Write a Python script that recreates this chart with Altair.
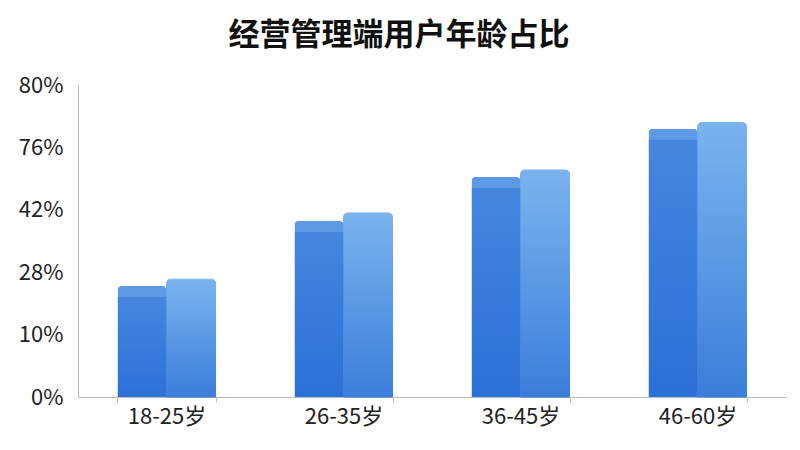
import altair as alt
import pandas as pd

categories = ["18-25岁", "26-35岁", "36-45岁", "46-60岁"]
series_front = [24.0, 39.5, 59.9, 77.2]   # left (darker) bars
series_back = [26.0, 41.3, 63.7, 77.6]    # right (lighter) bars
tick_labels = [0, 10, 28, 42, 76, 80]

W, H = 708, 312

rows = []
for c, a, b in zip(categories, series_front, series_back):
    rows.append({"cat": c, "series": "a", "value": a})
    rows.append({"cat": c, "series": "b", "value": b})
df = pd.DataFrame(rows)

n = len(tick_labels) - 1
y_range = [H - H * i / n for i in range(len(tick_labels))]

FONT = "Noto Sans CJK SC"

x_enc = alt.X(
    "cat:N",
    sort=categories,
    scale=alt.Scale(paddingInner=0.446, paddingOuter=0.223),
    axis=alt.Axis(
        title=None, labelAngle=0, labelFontSize=22, labelColor="#222222",
        labelFont=FONT, domainColor="#bbbbbb", tickColor="#bbbbbb",
        tickSize=5, tickBand="extent", labelPadding=4, grid=False,
    ),
)
y_enc = alt.Y(
    "value:Q",
    scale=alt.Scale(domain=tick_labels, range=y_range, nice=False, zero=False),
    axis=alt.Axis(
        title=None, values=tick_labels, labelExpr="datum.value + '%'",
        labelFontSize=22, labelColor="#222222", labelFont=FONT,
        domainColor="#bbbbbb", ticks=False, grid=False, labelPadding=15,
    ),
)
xo = alt.XOffset("series:N", scale=alt.Scale(domain=["a", "b"], paddingInner=0, paddingOuter=0))

def grad(bottom, top):
    return {
        "gradient": "linear", "x1": 0, "y1": 1, "x2": 0, "y2": 0,
        "stops": [{"offset": 0, "color": bottom}, {"offset": 1, "color": top}],
    }

base = alt.Chart(df)

back_grad = grad("#3a7edb", "#7ab4ee")
back = base.transform_filter("datum.series == 'b'").mark_bar(
    color=back_grad, stroke=back_grad, strokeWidth=1,
    cornerRadiusTopLeft=4, cornerRadiusTopRight=4
).encode(x=x_enc, y=y_enc, xOffset=xo)

front_cap = base.transform_filter("datum.series == 'a'").mark_bar(
    color="#5d99e5", cornerRadiusTopLeft=4, cornerRadiusTopRight=4
).encode(x=x_enc, y=y_enc, xOffset=xo)

front_body = base.transform_filter("datum.series == 'a'").mark_bar(
    color=grad("#2a6fd7", "#4686df"), yOffset=11, y2Offset=0,
    cornerRadiusTopLeft=2, cornerRadiusTopRight=2
).encode(x=x_enc, y=y_enc, xOffset=xo)

chart = (
    alt.layer(back, front_cap, front_body)
    .properties(
        width=W, height=H,
        background="white",
        title=alt.TitleParams(
            "经营管理端用户年龄占比", fontSize=31, fontWeight="bold",
            font=FONT, color="#111111", anchor="middle", offset=22, dx=-33,
        ),
        autosize=alt.AutoSizeParams(type="none"),
        padding={"left": 70, "top": 77, "right": 5, "bottom": 40},
    )
    .configure_view(strokeWidth=0, stroke="transparent")
)

chart.save("out.html", embed_options={"renderer": "svg", "actions": False})
